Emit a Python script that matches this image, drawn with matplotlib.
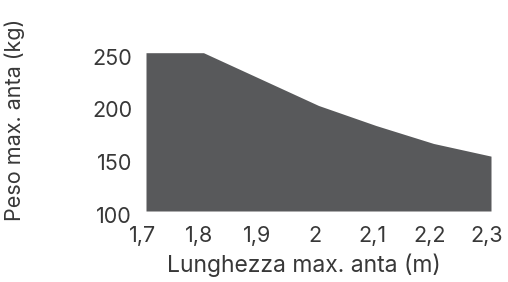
import matplotlib
matplotlib.use("Agg")
import matplotlib.pyplot as plt
from matplotlib.transforms import ScaledTranslation

lunghezza = [1.7, 1.8, 1.9, 2.0, 2.1, 2.2, 2.3]
peso = [250, 250, 225, 200, 181, 164, 152]
x_ticks = [1.7, 1.8, 1.9, 2.0, 2.1, 2.2, 2.3]
x_labels = ["1,7", "1,8", "1,9", "2", "2,1", "2,2", "2,3"]
y_ticks = [100, 150, 200, 250]
y_labels = ["100", "150", "200", "250"]

plt.rcParams['font.family'] = ['Inter', 'DejaVu Sans']
text_color = "#383838"
fill_color = "#58595b"
fs = 15.5

fig = plt.figure(figsize=(5.08, 2.82), dpi=100)
ax = fig.add_axes([146/508, 1-211/282, (491-146)/508, (211-52.7)/282])
ax.fill_between(lunghezza, 100, peso, color=fill_color, linewidth=0)
ax.set_xlim(1.7, 2.3)
ax.set_ylim(100, 250)
for s in ax.spines.values():
    s.set_visible(False)
ax.set_xticks(x_ticks)
ax.set_xticklabels(x_labels)
ax.set_yticks(y_ticks)
ax.set_yticklabels(y_labels)
ax.tick_params(axis='both', length=0, labelsize=fs, colors=text_color)
ax.tick_params(axis='x', pad=11)
ax.tick_params(axis='y', pad=10)
for lab in ax.get_xticklabels():
    lab.set_transform(lab.get_transform() + ScaledTranslation(-4/100, 0, fig.dpi_scale_trans))
for lab in ax.get_yticklabels():
    lab.set_transform(lab.get_transform() + ScaledTranslation(0, -4/100, fig.dpi_scale_trans))
ax.set_xlabel("Lunghezza max. anta (m)", fontsize=16.5, color=text_color)
ax.xaxis.set_label_coords(0.459, -0.27)
ax.set_ylabel("Peso max. anta (kg)", fontsize=fs, color=text_color)
ax.yaxis.set_label_coords(-0.35, 0.575)
fig.savefig("out.png", dpi=100)
